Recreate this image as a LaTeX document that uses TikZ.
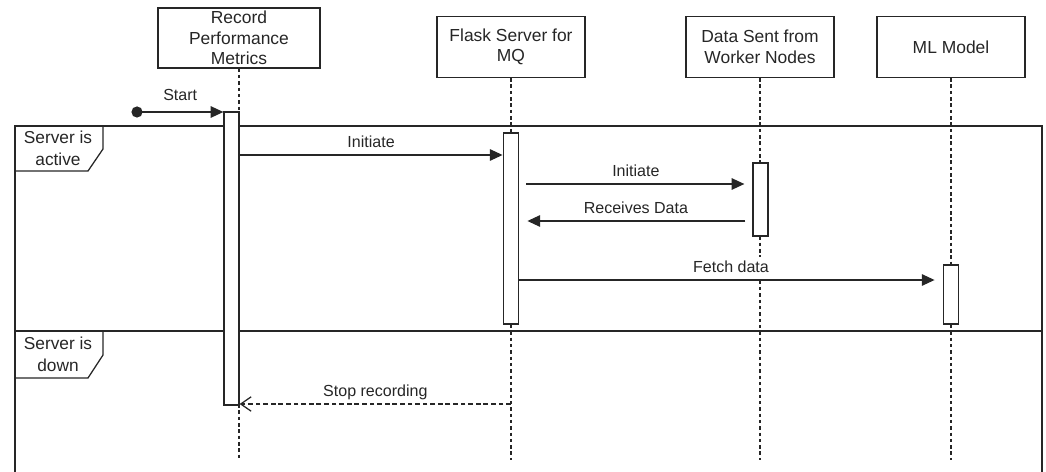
\documentclass[tikz,border=0pt]{standalone}
\usepackage{fontspec}
\setmainfont{Liberation Sans}
\usetikzlibrary{arrows.meta}

\begin{document}
\begin{tikzpicture}[x=0.025cm, y=-0.025cm, line width=0.9pt, color=black!85,
	hd/.style={draw, rectangle, minimum width=3.7cm, minimum height=1.525cm, inner sep=0pt, align=center, font=\fontsize{12.4}{14.6}\selectfont},
	bar/.style={draw, fill=white, rectangle, inner sep=0pt, minimum width=0.39cm},
	lbl/.style={fill=white, anchor=south, inner sep=2.5pt, text height=8.3pt, text depth=2.3pt, font=\fontsize{11.4}{13}\selectfont},
	tag/.style={align=center, inner sep=0pt, font=\fontsize{12.3}{15.5}\selectfont},
	life/.style={dash pattern=on 2.5pt off 2pt},
	msg/.style={-{Triangle[length=3.2mm, width=2.9mm]}},
	back/.style={dash pattern=on 3.4pt off 2pt, -{Straight Barb[length=2.6mm, width=3.6mm]}}]
	\useasboundingbox (0,0) rectangle (1046,472);
	% frame with two fragments
	\draw (15,472) -- (15,126) -- (1042,126) -- (1042,472);
	\draw (15,331) -- (1042,331);
	\draw (15,126) -- (103,126) -- (103,149) -- (88,171) -- (15,171);
	\draw (15,331) -- (103,331) -- (103,355) -- (88,378) -- (15,378);
	\node[tag] (act) at (58,148) {Server is\\active};
	\node[tag] (down) at (58,354) {Server is\\down};
	% participants
	\node[hd, minimum width=4.05cm, minimum height=1.5cm] (rec) at (239,38) {Record\\Performance\\Metrics};
	\node[hd] (flask) at (511,47) {Flask Server for\\MQ};
	\node[hd] (data) at (760,47) {Data Sent from\\Worker Nodes};
	\node[hd] (ml) at (951,47) {ML Model};
	\coordinate (end) at (0,460);
	\foreach \p in {rec, flask, data, ml} {\draw[life] (\p.south) -- (\p.south |- end);}
	% activations
	\node[bar, minimum width=0.375cm, minimum height=7.325cm] (bar1) at (231.5,258.5) {};
	\node[bar, minimum height=4.775cm] (bar2) at (511,228.5) {};
	\node[bar, minimum width=0.375cm, minimum height=1.825cm] (bar3) at (760.5,199.5) {};
	\node[bar, minimum height=1.475cm] (bar4) at (951,294.5) {};
	% messages
	\node[circle, fill, inner sep=0pt, minimum size=0.28cm] (st) at (137,112) {};
	\coordinate (y1) at (0,155);
	\coordinate (y2) at (0,184);
	\coordinate (y3) at (0,221);
	\coordinate (y4) at (0,280);
	\coordinate (y5) at (0,404);
	\draw[msg] (st.center) -- (bar1.west |- st) node[lbl, midway, above=3pt] {Start};
	\draw[msg] (bar1.east |- y1) -- (bar2.west |- y1) node[lbl, midway] {Initiate};
	\draw[msg, shorten <=0.175cm, shorten >=0.2cm] (bar2.east |- y2) -- (bar3.west |- y2) node[lbl, midway] {Initiate};
	\draw[msg, shorten <=0.175cm, shorten >=0.2cm] (bar3.west |- y3) -- (bar2.east |- y3) node[lbl, midway] {Receives Data};
	\draw[msg, shorten >=0.2cm] (bar2.east |- y4) -- (bar4.west |- y4) node[lbl, midway] {Fetch data};
	\draw[back] (flask |- y5) -- (bar1.east |- y5) node[lbl, midway] {Stop recording};
\end{tikzpicture}
\end{document}
